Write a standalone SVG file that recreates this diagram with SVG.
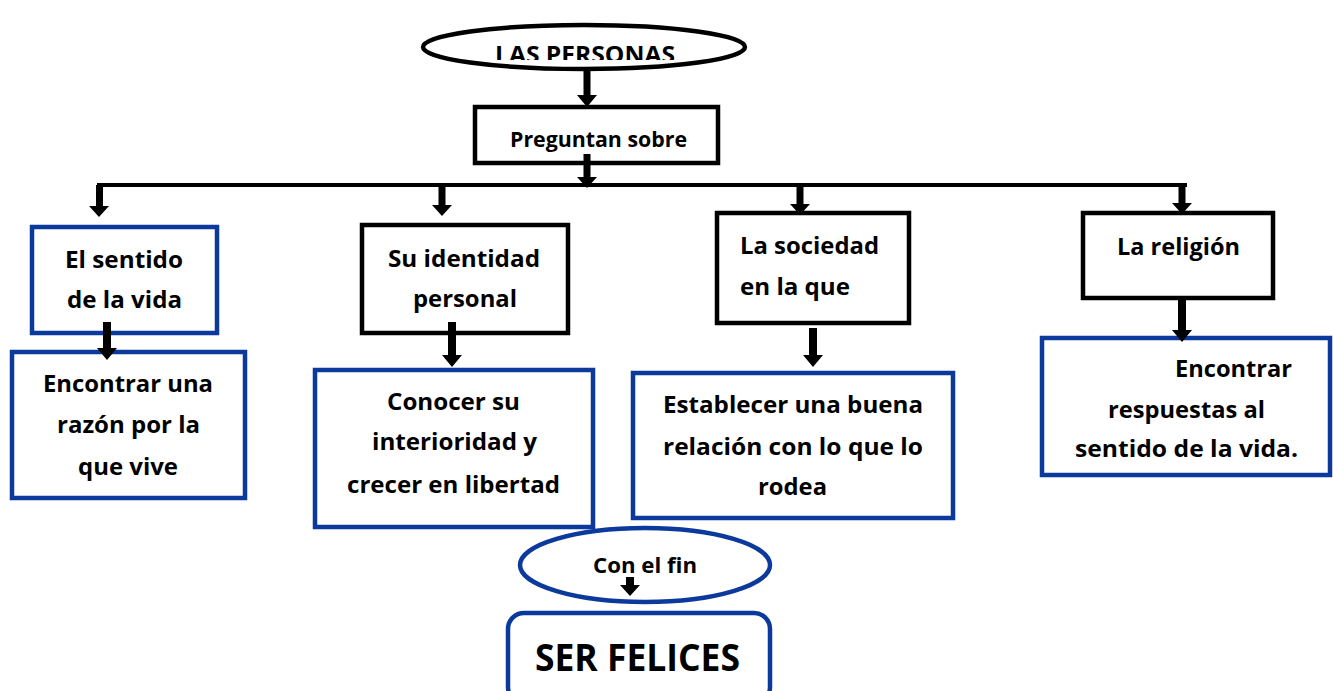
<svg xmlns="http://www.w3.org/2000/svg" width="1333" height="691" viewBox="0 0 1333 691">
<defs>
<style>
.t{font-family:"Open Sans","Liberation Sans",sans-serif;font-weight:700;fill:#000;}
.f{font-size:23.5px;}
.bk{fill:#fff;stroke:#000;stroke-width:4.5;}
.bl{fill:#fff;stroke:#0b3a9c;stroke-width:4.5;}
.ar{fill:#000;}
</style>
<clipPath id="clipTop"><rect x="400" y="0" width="400" height="60"/></clipPath>
</defs>
<rect width="1333" height="691" fill="#fff"/>

<g id="n-personas">
<ellipse class="bk" cx="584" cy="47" rx="161" ry="22"/>
<text class="t" x="495" y="63" font-size="23" textLength="180" lengthAdjust="spacingAndGlyphs" clip-path="url(#clipTop)">LAS PERSONAS</text>
</g>

<g id="n-preguntan">
<rect class="bk" x="475" y="107" width="243" height="56"/>
<text class="t" x="510" y="147" font-size="20.5" textLength="177" lengthAdjust="spacingAndGlyphs">Preguntan sobre</text>
</g>

<g id="n-sentido">
<rect class="bl" x="32" y="227" width="185" height="106"/>
<text class="t f" x="65" y="268" textLength="118" lengthAdjust="spacingAndGlyphs">El sentido</text>
<text class="t f" x="67" y="308" textLength="115" lengthAdjust="spacingAndGlyphs">de la vida</text>
</g>

<g id="n-encontrar1">
<rect class="bl" x="12" y="352" width="233" height="146"/>
<text class="t f" x="43" y="392" textLength="170" lengthAdjust="spacingAndGlyphs">Encontrar una</text>
<text class="t f" x="57" y="433" textLength="143" lengthAdjust="spacingAndGlyphs">razón por la</text>
<text class="t f" x="78" y="475" textLength="100" lengthAdjust="spacingAndGlyphs">que vive</text>
</g>

<g id="n-identidad">
<rect class="bk" x="362" y="225" width="206" height="108"/>
<text class="t f" x="388" y="267" textLength="152" lengthAdjust="spacingAndGlyphs">Su identidad</text>
<text class="t f" x="413" y="307" textLength="104" lengthAdjust="spacingAndGlyphs">personal</text>
</g>

<g id="n-conocer">
<rect class="bl" x="315" y="370" width="278" height="157"/>
<text class="t f" x="387" y="410" textLength="133" lengthAdjust="spacingAndGlyphs">Conocer su</text>
<text class="t f" x="372" y="450" textLength="165" lengthAdjust="spacingAndGlyphs">interioridad y</text>
<text class="t f" x="347" y="493" textLength="213" lengthAdjust="spacingAndGlyphs">crecer en libertad</text>
</g>

<g id="n-sociedad">
<rect class="bk" x="717" y="213" width="192" height="110"/>
<text class="t f" x="740" y="254" textLength="139" lengthAdjust="spacingAndGlyphs">La sociedad</text>
<text class="t f" x="740" y="295" textLength="110" lengthAdjust="spacingAndGlyphs">en la que</text>
</g>

<g id="n-establecer">
<rect class="bl" x="633" y="373" width="320" height="145"/>
<text class="t f" x="663" y="413" textLength="260" lengthAdjust="spacingAndGlyphs">Establecer una buena</text>
<text class="t f" x="663" y="455" textLength="260" lengthAdjust="spacingAndGlyphs">relación con lo que lo</text>
<text class="t f" x="758" y="495" textLength="69" lengthAdjust="spacingAndGlyphs">rodea</text>
</g>

<g id="n-religion">
<rect class="bk" x="1083" y="213" width="190" height="85"/>
<text class="t f" x="1117" y="255" textLength="123" lengthAdjust="spacingAndGlyphs">La religión</text>
</g>

<g id="n-encontrar2">
<rect class="bl" x="1042" y="338" width="288" height="137"/>
<text class="t f" x="1175" y="377" textLength="117" lengthAdjust="spacingAndGlyphs">Encontrar</text>
<text class="t f" x="1108" y="418" textLength="157" lengthAdjust="spacingAndGlyphs">respuestas al</text>
<text class="t f" x="1075" y="457" textLength="223" lengthAdjust="spacingAndGlyphs">sentido de la vida.</text>
</g>

<g id="n-confin">
<ellipse class="bl" cx="645" cy="565" rx="125" ry="37"/>
<text class="t" x="593" y="573" font-size="21" textLength="104" lengthAdjust="spacingAndGlyphs">Con el fin</text>
</g>

<g id="n-felices">
<rect class="bl" x="508" y="613" width="262" height="90" rx="16"/>
<text class="t" x="535" y="671" font-size="37" textLength="205" lengthAdjust="spacingAndGlyphs">SER FELICES</text>
</g>

<g id="connectors">
<line x1="97" y1="185" x2="1187" y2="185" stroke="#000" stroke-width="4"/>
<path class="ar" d="M583.5 68H590.5V95H597L587 107L577 95H583.5Z"/>
<path class="ar" d="M583.5 154H590.5V177H597L587 188L577 177H583.5Z"/>
<path class="ar" d="M96 185H103V206H109L99 217L89 206H96Z"/>
<path class="ar" d="M438.5 185H445.5V205H452L442 216L432 205H438.5Z"/>
<path class="ar" d="M796.5 185H803.5V204H810L800 215L790 204H796.5Z"/>
<path class="ar" d="M1178.5 185H1185.5V203H1192L1182 214L1172 203H1178.5Z"/>
<path class="ar" d="M103 322H111V348H117L107 360L97 348H103Z"/>
<path class="ar" d="M448 322H456V355H462L452 367L442 355H448Z"/>
<path class="ar" d="M809 328H817V355H823L813 367L803 355H809Z"/>
<path class="ar" d="M1178 298H1186V330H1192L1182 342L1172 330H1178Z"/>
<path class="ar" d="M626 577H634V585H640L630 596L620 585H626Z"/>
</g>
</svg>
